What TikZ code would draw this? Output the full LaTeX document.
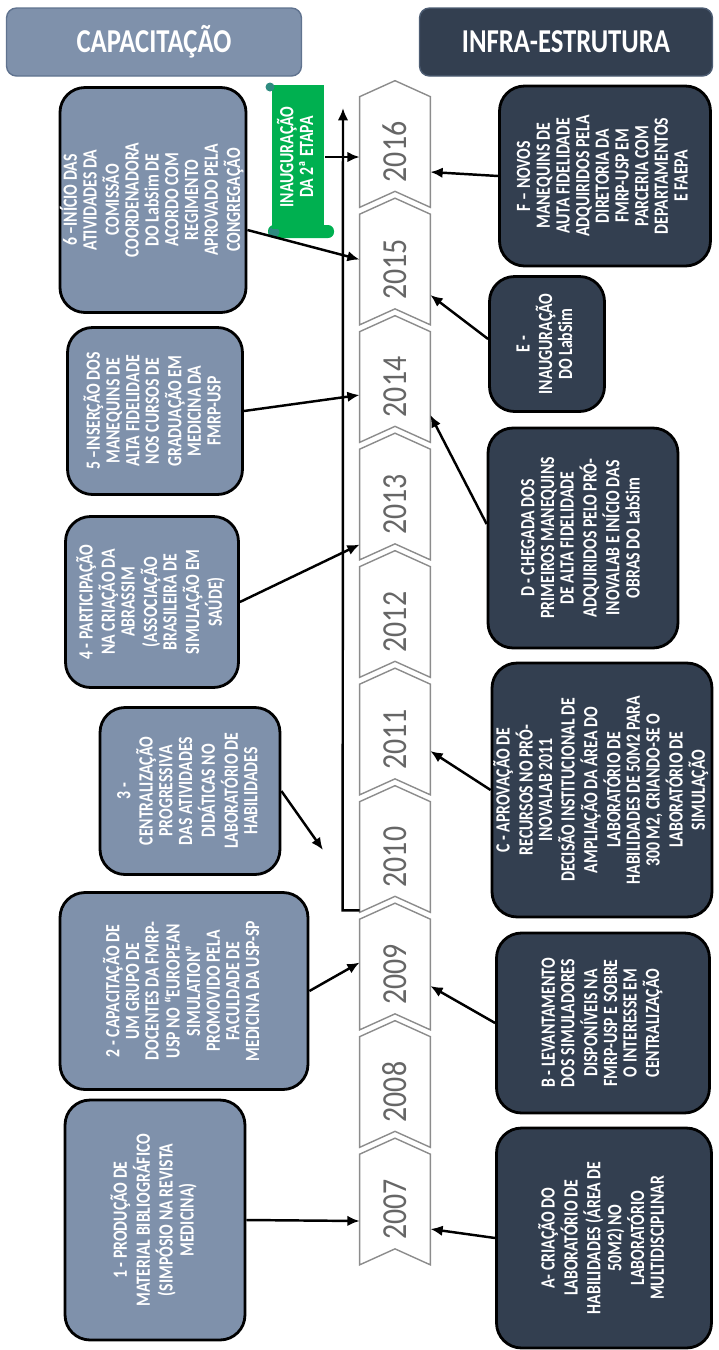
\documentclass[tikz,border=0pt]{standalone}
\usepackage{fontspec}
\setmainfont{Carlito}
\usepackage{graphicx}
\usetikzlibrary{arrows.meta,backgrounds}

\definecolor{capfill}{HTML}{7F91AB}
\definecolor{capline}{HTML}{60738F}
\definecolor{inffill}{HTML}{333F50}
\definecolor{infline}{HTML}{4D5D73}
\definecolor{bangreen}{HTML}{00B050}
\definecolor{bandark}{HTML}{2E8B80}
\definecolor{chevgray}{HTML}{8C8C8C}
\definecolor{yeargray}{HTML}{666666}

% rotated, narrowed text block
\newcommand{\vtxt}[1]{\rotatebox{90}{\scalebox{0.78}[1]{\begin{tabular}{@{}c@{}}#1\end{tabular}}}}

\begin{document}
\begin{tikzpicture}[x=0.02cm,y=-0.02cm,
    >={Latex[length=7pt,width=6pt]},
    every node/.style={inner sep=0pt},
    box/.style={draw=black,line width=1.6pt,rounded corners=0.5cm,text=white,
      font=\bfseries\fontsize{11.5}{11.2}\selectfont},
    capbox/.style={box,fill=capfill},
    infbox/.style={box,fill=inffill},
    head/.style={rounded corners=0.2cm,line width=0.8pt,text=white,
      minimum height=1.36cm,font=\bfseries\fontsize{19}{22}\selectfont},
    banner/.style={fill=bangreen,text=white,minimum width=1.06cm,minimum height=2.9cm,
      font=\bfseries\fontsize{11.5}{11.2}\selectfont},
    yearbox/.style={minimum width=1.4cm,minimum height=2.2cm,text=yeargray,
      font=\fontsize{20}{22}\selectfont},
    chev/.style={draw=chevgray,fill=white,line width=0.8pt},
    link/.style={->,line width=1.4pt}]
\useasboundingbox (0,0) rectangle (719,1350);

% headers
\node[head,draw=capline,fill=capfill,minimum width=5.9cm] (hcap) at (154,42) {\scalebox{0.8}[1]{CAPACITAÇÃO}};
\node[head,draw=infline,fill=inffill,minimum width=5.86cm] (hinf) at (566,42) {\scalebox{0.8}[1]{INFRA-ESTRUTURA}};

% timeline
\foreach \yr [count=\i from 0] in {2016,2015,...,2007} {
  \node[yearbox] (y\yr) at (395,{152+117.5*\i}) {\rotatebox{90}{\scalebox{0.85}[1]{\yr}}};
  \begin{scope}[on background layer]
    \draw[chev] (y\yr.north west) -- ([yshift=0.32cm]y\yr.north) -- (y\yr.north east)
      -- (y\yr.south east) -- ([yshift=0.32cm]y\yr.south) -- (y\yr.south west) -- cycle;
  \end{scope}
}
\coordinate (top) at (343,108);
\draw[link] ([yshift=0.04cm]y2010.south west) -- ++(-17,0) -- (top);

% banner
\fill[bangreen,rounded corners=0.12cm] (268,225) rectangle (334,238);
\fill[bandark] (274,232) circle[radius=0.11cm];
\node[banner] (ban) at (298,157) {\vtxt{INAUGURAÇÃO\\DA 2ª ETAPA}};
\fill[bandark] (270,87) circle[radius=0.09cm];

% capacitacao
\node[capbox,minimum width=3.64cm,minimum height=4.5cm] (b6) at (153,200)
  {\vtxt{6 –INÍCIO DAS\\ATIVIDADES DA\\COMISSÃO\\COORDENADORA\\DO LabSim DE\\ACORDO COM\\REGIMENTO\\APROVADO PELA\\CONGREGAÇÃO}};
\node[capbox,minimum width=3.5cm,minimum height=3.34cm] (b5) at (155,411)
  {\vtxt{5 –INSERÇÃO DOS\\MANEQUINS DE\\ALTA FIDELIDADE\\NOS CURSOS DE\\GRADUAÇÃO EM\\MEDICINA DA\\FMRP-USP}};
\node[capbox,minimum width=3.46cm,minimum height=3.42cm] (b4) at (152,602)
  {\vtxt{4 - PARTICIPAÇÃO\\NA CRIAÇÃO DA\\ABRASSIM\\(ASSOCIAÇÃO\\BRASILEIRA DE\\SIMULAÇÃO EM\\SAÚDE)}};
\node[capbox,minimum width=3.6cm,minimum height=3.34cm] (b3) at (190,791)
  {\vtxt{3 -\\CENTRALIZAÇÃO\\PROGRESSIVA\\DAS ATIVIDADES\\DIDÁTICAS NO\\LABORATÓRIO DE\\HABILIDADES}};
\node[capbox,minimum width=4.96cm,minimum height=3.94cm] (b2) at (184,991)
  {\vtxt{2 - CAPACITAÇÃO DE\\UM GRUPO DE\\DOCENTES DA FMRP-\\USP NO “EUROPEAN\\SIMULATION”\\PROMOVIDO PELA\\FACULDADE DE\\MEDICINA DA USP-SP}};
\node[capbox,minimum width=3.6cm,minimum height=4.8cm] (b1) at (155,1220)
  {\vtxt{1 - PRODUÇÃO DE\\MATERIAL BIBLIOGRÁFICO\\(SIMPÓSIO NA REVISTA\\MEDICINA)}};

% infra-estrutura
\node[infbox,minimum width=4.22cm,minimum height=3.6cm] (bF) at (605,176)
  {\vtxt{F – NOVOS\\MANEQUINS DE\\AUTA FIDELIDADE\\ADQUIRIDOS PELA\\DIRETORIA DA\\FMRP-USP EM\\PARCERIA COM\\DEPARTAMENTOS\\E FAEPA}};
\node[infbox,minimum width=2.3cm,minimum height=2.7cm] (bE) at (547,344)
  {\vtxt{E -\\INAUGURAÇÃO\\DO LabSim}};
\node[infbox,minimum width=3.8cm,minimum height=4.4cm] (bD) at (583,538)
  {\vtxt{D - CHEGADA DOS\\PRIMEIROS MANEQUINS\\DE ALTA FIDELIDADE\\ADQUIRIDOS PELO PRÓ-\\INOVALAB E INÍCIO DAS\\OBRAS DO LabSim}};
\node[infbox,minimum width=4.4cm,minimum height=5.08cm] (bC) at (602,790)
  {\vtxt{C - APROVAÇÃO DE\\RECURSOS NO PRÓ-\\INOVALAB 2011\\DECISÃO INSTITUCIONAL DE\\AMPLIAÇÃO DA ÁREA DO\\LABORATÓRIO DE\\HABILIDADES DE 50M2 PARA\\300 M2, CRIANDO-SE O\\LABORATÓRIO DE\\SIMULAÇÃO}};
\node[infbox,minimum width=4.26cm,minimum height=3.6cm] (bB) at (603,1023)
  {\vtxt{B - LEVANTAMENTO\\DOS SIMULADORES\\DISPONÍVEIS NA\\FMRP-USP E SOBRE\\O INTERESSE EM\\CENTRALIZAÇÃO}};
\node[infbox,minimum width=4.3cm,minimum height=4.4cm] (bA) at (604,1238)
  {\vtxt{A- CRIAÇÃO DO\\LABORATÓRIO DE\\HABILIDADES (ÁREA DE\\50M2) NO\\LABORATÓRIO\\MULTIDISCIPLINAR}};

% connectors
\coordinate (b3end) at (323,850);
\draw[link] (ban.east) -- (ban.east -| y2016.west);
\draw[link] ([yshift=-0.6cm]b6.east) -- ([yshift=0.2cm]y2015.west);
\draw[link] (b5.east) -- ([yshift=-0.16cm]y2014.west);
\draw[link] (b4.east) -- ([yshift=-0.8cm]y2013.west);
\draw[link] (b3.east) -- (b3end);
\draw[link] (b2.east) -- ([yshift=0.24cm]y2009.west);
\draw[link] (b1.east) -- ([yshift=-0.23cm]y2007.west);
\draw[link] (bF.west) -- ([yshift=-0.4cm]y2016.east);
\draw[link] ([yshift=0.1cm]bE.west) -- ([yshift=-0.51cm]y2015.east);
\draw[link] ([yshift=0.28cm]bD.west) -- ([yshift=-0.56cm]y2014.east);
\draw[link] (bC.west) -- ([yshift=-0.23cm]y2011.east);
\draw[link] (bB.west) -- ([yshift=-0.23cm]y2009.east);
\draw[link] (bA.west) -- ([yshift=-0.39cm]y2007.east);
\end{tikzpicture}
\end{document}
